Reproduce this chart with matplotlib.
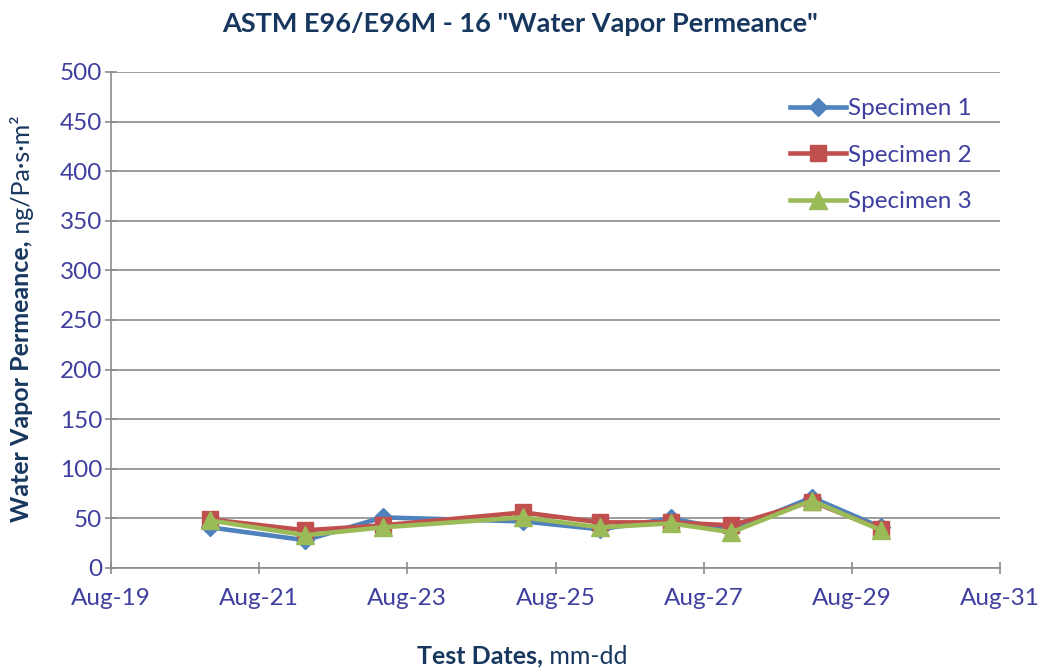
import numpy as np
import pandas as pd
import matplotlib
matplotlib.use('Agg')
import matplotlib.pyplot as plt
import matplotlib.dates as mdates

plt.rcParams['font.family'] = ['Lato', 'DejaVu Sans']

# test dates (with time of day) and permeance values, ng/Pa·s·m²
dates = pd.to_datetime(['2016-08-20 08:00', '2016-08-21 15:00', '2016-08-22 16:00',
                        '2016-08-24 13:30', '2016-08-25 14:30', '2016-08-26 13:30',
                        '2016-08-27 09:00', '2016-08-28 11:00', '2016-08-29 09:30'])
specimen_1 = [41, 28, 51, 47, 39, 50, 38, 71, 41]
specimen_2 = [49, 38, 43, 56, 46, 46, 43, 67, 39]
specimen_3 = [48, 33, 41, 51, 41, 45, 36, 68, 38]

x_start = pd.Timestamp('2016-08-19')
x_end = pd.Timestamp('2016-08-31')

title_color = '#17375E'
tick_color = '#3F3F9F'
grid_color = '#8C8C8C'

fig = plt.figure(figsize=(10.4, 6.7), dpi=100)
ax = fig.add_axes([111 / 1040, 1 - 568 / 670, 889 / 1040, 496 / 670])

ax.plot(dates, specimen_1, color='#4F81BD', lw=3.3, marker='D', ms=9.5, label='Specimen 1')
ax.plot(dates, specimen_2, color='#C0504D', lw=3.3, marker='s', ms=11.5, label='Specimen 2')
ax.plot(dates, specimen_3, color='#9BBB59', lw=3.3, marker='^', ms=12.5, label='Specimen 3')

ax.set_xlim(x_start, x_end)
ax.set_ylim(0, 500)
ax.set_yticks(np.arange(0, 501, 50))
ax.xaxis.set_major_locator(mdates.DayLocator(bymonthday=[19, 21, 23, 25, 27, 29, 31]))
ax.xaxis.set_major_formatter(mdates.DateFormatter('%b-%d'))

ax.grid(axis='y', color=grid_color, lw=1.2)
ax.set_axisbelow(True)
for s in ['top', 'right']:
    ax.spines[s].set_visible(False)
for s in ['left', 'bottom']:
    ax.spines[s].set_color(grid_color)
    ax.spines[s].set_linewidth(1.2)
ax.tick_params(axis='both', direction='inout', length=9, color=grid_color, width=1.2,
               labelcolor=tick_color, labelsize=17.5)
ax.tick_params(axis='x', pad=10)
ax.tick_params(axis='y', pad=2)

leg = ax.legend(loc='upper left', bbox_to_anchor=(778 / 1040, 1 - 86 / 670),
                bbox_transform=fig.transFigure, frameon=False, borderpad=0,
                fontsize=17.5, handlelength=2.3, labelspacing=1.05, handletextpad=0.1)
for t in leg.get_texts():
    t.set_color(tick_color)

fig.text(0.5, 1 - 24 / 670, 'ASTM E96/E96M - 16 "Water Vapor Permeance"', ha='center',
         va='center', fontsize=19.5, fontweight='bold', color=title_color)

# axis labels: bold part followed by regular part
fig.canvas.draw()
r = fig.canvas.get_renderer()

t1 = fig.text(0, 0, 'Test Dates,', fontsize=18, fontweight='bold', color=title_color,
              va='center', ha='left')
t2 = fig.text(0, 0, ' mm-dd', fontsize=18, color=title_color, va='center', ha='left')
w1 = t1.get_window_extent(r).width / 1040
w2 = t2.get_window_extent(r).width / 1040
xl = 522 / 1040 - (w1 + w2) / 2
yl = 1 - 656 / 670
t1.set_position((xl, yl))
t2.set_position((xl + w1, yl))

t3 = fig.text(0, 0, 'Water Vapor Permeance,', fontsize=18, fontweight='bold',
              color=title_color, va='center', ha='center', rotation=90)
t4 = fig.text(0, 0, ' ng/Pa·s·m²', fontsize=18, color=title_color, va='center',
              ha='center', rotation=90)
h3 = t3.get_window_extent(r).height / 670
h4 = t4.get_window_extent(r).height / 670
yc = 1 - 319 / 670
xc = 22 / 1040
y0 = yc - (h3 + h4) / 2
t3.set_position((xc, y0 + h3 / 2))
t4.set_position((xc, y0 + h3 + h4 / 2))

fig.savefig('out.png', dpi=100)
